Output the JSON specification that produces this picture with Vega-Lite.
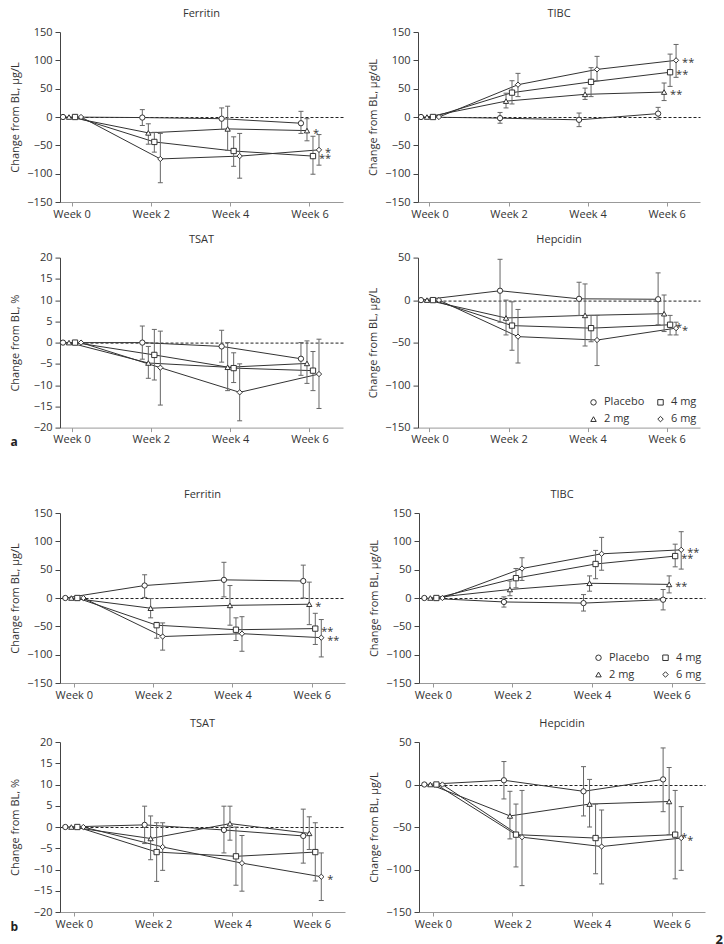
{
"$schema":"https://vega.github.io/schema/vega-lite/v6.json",
"background":"white",
"padding":{"left":9,"top":8,"right":0,"bottom":0},
"config":{
 "font":"Open Sans",
 "view":{"stroke":null},
 "axis":{"labelFontSize":11,"titleFontSize":11,"titleFontWeight":"normal","labelColor":"#333","titleColor":"#333","domainColor":"#444","tickColor":"#444","tickSize":5,"labelPadding":3},
 "axisX":{"domainColor":"#999","tickColor":"#999","tickSize":4,"labelPadding":2,"grid":false},
 "axisY":{"titleX":-40,"titleY":85,"gridDash":[3,2],"gridColor":"#222"},
 "title":{"fontSize":11,"fontWeight":"normal","color":"#333","offset":7},
 "legend":{"labelFontSize":11,"labelColor":"#333"}
},
"datasets":{"d":[
{"panel":"a","measure":"Ferritin","week":"Week 0","group":"Placebo","mean":0},
{"panel":"a","measure":"Ferritin","week":"Week 0","group":"2 mg","mean":0},
{"panel":"a","measure":"Ferritin","week":"Week 0","group":"4 mg","mean":0},
{"panel":"a","measure":"Ferritin","week":"Week 0","group":"6 mg","mean":0},
{"panel":"a","measure":"Ferritin","week":"Week 2","group":"Placebo","mean":-1,"lo":-15,"hi":13},
{"panel":"a","measure":"Ferritin","week":"Week 4","group":"Placebo","mean":-3,"lo":-22,"hi":16},
{"panel":"a","measure":"Ferritin","week":"Week 6","group":"Placebo","mean":-11,"lo":-29,"hi":10},
{"panel":"a","measure":"Ferritin","week":"Week 2","group":"2 mg","mean":-28,"lo":-48,"hi":-12},
{"panel":"a","measure":"Ferritin","week":"Week 4","group":"2 mg","mean":-21,"lo":-59,"hi":19},
{"panel":"a","measure":"Ferritin","week":"Week 6","group":"2 mg","mean":-24,"lo":-42,"hi":-3,"sig":"*"},
{"panel":"a","measure":"Ferritin","week":"Week 2","group":"4 mg","mean":-44,"lo":-62,"hi":-27},
{"panel":"a","measure":"Ferritin","week":"Week 4","group":"4 mg","mean":-60,"lo":-87,"hi":-35},
{"panel":"a","measure":"Ferritin","week":"Week 6","group":"4 mg","mean":-69,"lo":-101,"hi":-34,"sig":"**"},
{"panel":"a","measure":"Ferritin","week":"Week 2","group":"6 mg","mean":-74,"lo":-116,"hi":-29},
{"panel":"a","measure":"Ferritin","week":"Week 4","group":"6 mg","mean":-69,"lo":-108,"hi":-29},
{"panel":"a","measure":"Ferritin","week":"Week 6","group":"6 mg","mean":-58,"lo":-85,"hi":-31,"sig":"*"},
{"panel":"a","measure":"TIBC","week":"Week 0","group":"Placebo","mean":0},
{"panel":"a","measure":"TIBC","week":"Week 0","group":"2 mg","mean":0},
{"panel":"a","measure":"TIBC","week":"Week 0","group":"4 mg","mean":0},
{"panel":"a","measure":"TIBC","week":"Week 0","group":"6 mg","mean":0},
{"panel":"a","measure":"TIBC","week":"Week 2","group":"Placebo","mean":-2,"lo":-11,"hi":8},
{"panel":"a","measure":"TIBC","week":"Week 4","group":"Placebo","mean":-5,"lo":-17,"hi":7},
{"panel":"a","measure":"TIBC","week":"Week 6","group":"Placebo","mean":6,"lo":-4,"hi":17},
{"panel":"a","measure":"TIBC","week":"Week 2","group":"2 mg","mean":28,"lo":16,"hi":42},
{"panel":"a","measure":"TIBC","week":"Week 4","group":"2 mg","mean":40,"lo":31,"hi":51},
{"panel":"a","measure":"TIBC","week":"Week 6","group":"2 mg","mean":44,"lo":29,"hi":60,"sig":"**"},
{"panel":"a","measure":"TIBC","week":"Week 2","group":"4 mg","mean":43,"lo":23,"hi":64},
{"panel":"a","measure":"TIBC","week":"Week 4","group":"4 mg","mean":62,"lo":36,"hi":87},
{"panel":"a","measure":"TIBC","week":"Week 6","group":"4 mg","mean":79,"lo":54,"hi":111,"sig":"**"},
{"panel":"a","measure":"TIBC","week":"Week 2","group":"6 mg","mean":57,"lo":36,"hi":77},
{"panel":"a","measure":"TIBC","week":"Week 4","group":"6 mg","mean":84,"lo":64,"hi":107},
{"panel":"a","measure":"TIBC","week":"Week 6","group":"6 mg","mean":100,"lo":70,"hi":128,"sig":"**"},
{"panel":"a","measure":"TSAT","week":"Week 0","group":"Placebo","mean":0},
{"panel":"a","measure":"TSAT","week":"Week 0","group":"2 mg","mean":0},
{"panel":"a","measure":"TSAT","week":"Week 0","group":"4 mg","mean":0},
{"panel":"a","measure":"TSAT","week":"Week 0","group":"6 mg","mean":0},
{"panel":"a","measure":"TSAT","week":"Week 2","group":"Placebo","mean":0,"lo":-3.9,"hi":3.9},
{"panel":"a","measure":"TSAT","week":"Week 4","group":"Placebo","mean":-0.9,"lo":-4.6,"hi":2.9},
{"panel":"a","measure":"TSAT","week":"Week 6","group":"Placebo","mean":-3.8,"lo":-7.7,"hi":0},
{"panel":"a","measure":"TSAT","week":"Week 2","group":"2 mg","mean":-4.8,"lo":-8.4,"hi":-0.9},
{"panel":"a","measure":"TSAT","week":"Week 4","group":"2 mg","mean":-5.8,"lo":-11.3,"hi":0},
{"panel":"a","measure":"TSAT","week":"Week 6","group":"2 mg","mean":-4.9,"lo":-9.6,"hi":0.4},
{"panel":"a","measure":"TSAT","week":"Week 2","group":"4 mg","mean":-2.9,"lo":-8.8,"hi":3.1},
{"panel":"a","measure":"TSAT","week":"Week 4","group":"4 mg","mean":-6,"lo":-9.4,"hi":-2.4},
{"panel":"a","measure":"TSAT","week":"Week 6","group":"4 mg","mean":-6.6,"lo":-11.3,"hi":-2.1},
{"panel":"a","measure":"TSAT","week":"Week 2","group":"6 mg","mean":-5.9,"lo":-14.7,"hi":2.7},
{"panel":"a","measure":"TSAT","week":"Week 4","group":"6 mg","mean":-11.7,"lo":-18.4,"hi":-5},
{"panel":"a","measure":"TSAT","week":"Week 6","group":"6 mg","mean":-7.4,"lo":-15.5,"hi":0.8},
{"panel":"a","measure":"Hepcidin","week":"Week 0","group":"Placebo","mean":0},
{"panel":"a","measure":"Hepcidin","week":"Week 0","group":"2 mg","mean":0},
{"panel":"a","measure":"Hepcidin","week":"Week 0","group":"4 mg","mean":0},
{"panel":"a","measure":"Hepcidin","week":"Week 0","group":"6 mg","mean":0},
{"panel":"a","measure":"Hepcidin","week":"Week 2","group":"Placebo","mean":11,"lo":-26,"hi":48},
{"panel":"a","measure":"Hepcidin","week":"Week 4","group":"Placebo","mean":1.5,"lo":-18,"hi":21},
{"panel":"a","measure":"Hepcidin","week":"Week 6","group":"Placebo","mean":1,"lo":-29,"hi":32},
{"panel":"a","measure":"Hepcidin","week":"Week 2","group":"2 mg","mean":-21,"lo":-41,"hi":0},
{"panel":"a","measure":"Hepcidin","week":"Week 4","group":"2 mg","mean":-18,"lo":-54,"hi":19},
{"panel":"a","measure":"Hepcidin","week":"Week 6","group":"2 mg","mean":-16,"lo":-37,"hi":6},
{"panel":"a","measure":"Hepcidin","week":"Week 2","group":"4 mg","mean":-30,"lo":-59,"hi":-2},
{"panel":"a","measure":"Hepcidin","week":"Week 4","group":"4 mg","mean":-33,"lo":-49,"hi":-18},
{"panel":"a","measure":"Hepcidin","week":"Week 6","group":"4 mg","mean":-29,"lo":-41,"hi":-18,"sig":"*"},
{"panel":"a","measure":"Hepcidin","week":"Week 2","group":"6 mg","mean":-43,"lo":-74,"hi":-11},
{"panel":"a","measure":"Hepcidin","week":"Week 4","group":"6 mg","mean":-47,"lo":-77,"hi":-18},
{"panel":"a","measure":"Hepcidin","week":"Week 6","group":"6 mg","mean":-33,"lo":-41,"hi":-26,"sig":"*"},
{"panel":"b","measure":"Ferritin","week":"Week 0","group":"Placebo","mean":0},
{"panel":"b","measure":"Ferritin","week":"Week 0","group":"2 mg","mean":0},
{"panel":"b","measure":"Ferritin","week":"Week 0","group":"4 mg","mean":0},
{"panel":"b","measure":"Ferritin","week":"Week 0","group":"6 mg","mean":0},
{"panel":"b","measure":"Ferritin","week":"Week 2","group":"Placebo","mean":22,"lo":1,"hi":41},
{"panel":"b","measure":"Ferritin","week":"Week 4","group":"Placebo","mean":32,"lo":2,"hi":63},
{"panel":"b","measure":"Ferritin","week":"Week 6","group":"Placebo","mean":30,"lo":0,"hi":58},
{"panel":"b","measure":"Ferritin","week":"Week 2","group":"2 mg","mean":-18,"lo":-35,"hi":-1},
{"panel":"b","measure":"Ferritin","week":"Week 4","group":"2 mg","mean":-13,"lo":-48,"hi":22},
{"panel":"b","measure":"Ferritin","week":"Week 6","group":"2 mg","mean":-11,"lo":-47,"hi":28,"sig":"*"},
{"panel":"b","measure":"Ferritin","week":"Week 2","group":"4 mg","mean":-48,"lo":-71,"hi":-43},
{"panel":"b","measure":"Ferritin","week":"Week 4","group":"4 mg","mean":-56,"lo":-75,"hi":-35},
{"panel":"b","measure":"Ferritin","week":"Week 6","group":"4 mg","mean":-54,"lo":-82,"hi":-27,"sig":"**"},
{"panel":"b","measure":"Ferritin","week":"Week 2","group":"6 mg","mean":-68,"lo":-92,"hi":-44},
{"panel":"b","measure":"Ferritin","week":"Week 4","group":"6 mg","mean":-63,"lo":-94,"hi":-33},
{"panel":"b","measure":"Ferritin","week":"Week 6","group":"6 mg","mean":-70,"lo":-104,"hi":-38,"sig":"**"},
{"panel":"b","measure":"TIBC","week":"Week 0","group":"Placebo","mean":0},
{"panel":"b","measure":"TIBC","week":"Week 0","group":"2 mg","mean":0},
{"panel":"b","measure":"TIBC","week":"Week 0","group":"4 mg","mean":0},
{"panel":"b","measure":"TIBC","week":"Week 0","group":"6 mg","mean":0},
{"panel":"b","measure":"TIBC","week":"Week 2","group":"Placebo","mean":-7,"lo":-16,"hi":2},
{"panel":"b","measure":"TIBC","week":"Week 4","group":"Placebo","mean":-9,"lo":-23,"hi":6},
{"panel":"b","measure":"TIBC","week":"Week 6","group":"Placebo","mean":-3,"lo":-21,"hi":15},
{"panel":"b","measure":"TIBC","week":"Week 2","group":"2 mg","mean":15,"lo":4,"hi":30},
{"panel":"b","measure":"TIBC","week":"Week 4","group":"2 mg","mean":26,"lo":12,"hi":39},
{"panel":"b","measure":"TIBC","week":"Week 6","group":"2 mg","mean":24,"lo":9,"hi":39,"sig":"**"},
{"panel":"b","measure":"TIBC","week":"Week 2","group":"4 mg","mean":35,"lo":18,"hi":52},
{"panel":"b","measure":"TIBC","week":"Week 4","group":"4 mg","mean":60,"lo":34,"hi":84},
{"panel":"b","measure":"TIBC","week":"Week 6","group":"4 mg","mean":74,"lo":55,"hi":95,"sig":"**"},
{"panel":"b","measure":"TIBC","week":"Week 2","group":"6 mg","mean":52,"lo":31,"hi":71},
{"panel":"b","measure":"TIBC","week":"Week 4","group":"6 mg","mean":78,"lo":49,"hi":107},
{"panel":"b","measure":"TIBC","week":"Week 6","group":"6 mg","mean":85,"lo":51,"hi":117,"sig":"**"},
{"panel":"b","measure":"TSAT","week":"Week 0","group":"Placebo","mean":0},
{"panel":"b","measure":"TSAT","week":"Week 0","group":"2 mg","mean":0},
{"panel":"b","measure":"TSAT","week":"Week 0","group":"4 mg","mean":0},
{"panel":"b","measure":"TSAT","week":"Week 0","group":"6 mg","mean":0},
{"panel":"b","measure":"TSAT","week":"Week 2","group":"Placebo","mean":0.5,"lo":-3.9,"hi":4.9},
{"panel":"b","measure":"TSAT","week":"Week 4","group":"Placebo","mean":-0.7,"lo":-6.1,"hi":4.9},
{"panel":"b","measure":"TSAT","week":"Week 6","group":"Placebo","mean":-2.1,"lo":-8.5,"hi":4.2},
{"panel":"b","measure":"TSAT","week":"Week 2","group":"2 mg","mean":-2.7,"lo":-7.7,"hi":2.6},
{"panel":"b","measure":"TSAT","week":"Week 4","group":"2 mg","mean":0.8,"lo":-3.1,"hi":4.9},
{"panel":"b","measure":"TSAT","week":"Week 6","group":"2 mg","mean":-1.5,"lo":-5.3,"hi":2.4},
{"panel":"b","measure":"TSAT","week":"Week 2","group":"4 mg","mean":-5.9,"lo":-12.8,"hi":1},
{"panel":"b","measure":"TSAT","week":"Week 4","group":"4 mg","mean":-6.9,"lo":-13.7,"hi":0},
{"panel":"b","measure":"TSAT","week":"Week 6","group":"4 mg","mean":-5.9,"lo":-12.7,"hi":1},
{"panel":"b","measure":"TSAT","week":"Week 2","group":"6 mg","mean":-4.7,"lo":-10.2,"hi":1},
{"panel":"b","measure":"TSAT","week":"Week 4","group":"6 mg","mean":-8.5,"lo":-15.1,"hi":-2},
{"panel":"b","measure":"TSAT","week":"Week 6","group":"6 mg","mean":-11.7,"lo":-17.3,"hi":-6.1,"sig":"*"},
{"panel":"b","measure":"Hepcidin","week":"Week 0","group":"Placebo","mean":0},
{"panel":"b","measure":"Hepcidin","week":"Week 0","group":"2 mg","mean":0},
{"panel":"b","measure":"Hepcidin","week":"Week 0","group":"4 mg","mean":0},
{"panel":"b","measure":"Hepcidin","week":"Week 0","group":"6 mg","mean":0},
{"panel":"b","measure":"Hepcidin","week":"Week 2","group":"Placebo","mean":5,"lo":-17,"hi":27},
{"panel":"b","measure":"Hepcidin","week":"Week 4","group":"Placebo","mean":-8,"lo":-37,"hi":21},
{"panel":"b","measure":"Hepcidin","week":"Week 6","group":"Placebo","mean":6,"lo":-32,"hi":43},
{"panel":"b","measure":"Hepcidin","week":"Week 2","group":"2 mg","mean":-37,"lo":-64,"hi":-8},
{"panel":"b","measure":"Hepcidin","week":"Week 4","group":"2 mg","mean":-23,"lo":-50,"hi":6},
{"panel":"b","measure":"Hepcidin","week":"Week 6","group":"2 mg","mean":-20,"lo":-59,"hi":20},
{"panel":"b","measure":"Hepcidin","week":"Week 2","group":"4 mg","mean":-59,"lo":-97,"hi":-23},
{"panel":"b","measure":"Hepcidin","week":"Week 4","group":"4 mg","mean":-63,"lo":-105,"hi":-23},
{"panel":"b","measure":"Hepcidin","week":"Week 6","group":"4 mg","mean":-59,"lo":-111,"hi":-7,"sig":"*"},
{"panel":"b","measure":"Hepcidin","week":"Week 2","group":"6 mg","mean":-62,"lo":-119,"hi":-7},
{"panel":"b","measure":"Hepcidin","week":"Week 4","group":"6 mg","mean":-73,"lo":-117,"hi":-30},
{"panel":"b","measure":"Hepcidin","week":"Week 6","group":"6 mg","mean":-63,"lo":-101,"hi":-26,"sig":"*"}
]},
"spacing":41,
"resolve":{"scale":{"shape":"independent","xOffset":"independent"},"legend":{"shape":"independent"}},
"vconcat":[
{"columns":2,"spacing":{"row":14.6,"column":24},
 "resolve":{"scale":{"shape":"independent","xOffset":"independent"},"legend":{"shape":"independent"}},
 "concat":[
  {"width":283,"height":170,"title":"Ferritin","data":{"name":"d"},
   "transform":[{"filter":"datum.panel === 'a' && datum.measure === 'Ferritin'"}],
   "encoding":{
    "x":{"field":"week","type":"ordinal","scale":{"type":"band","domain":["Week 0","Week 2","Week 4","Week 6"],"paddingInner":0.697,"paddingOuter":0.1324,"align":0},"axis":{"title":null,"labelAngle":0}},
    "xOffset":{"field":"group","type":"nominal","scale":{"domain":["Placebo","2 mg","4 mg","6 mg"]}},
    "y":{"field":"mean","type":"quantitative","scale":{"domain":[-150,150],"nice":false},"axis":{"title":"Change from BL, µg/L","values":[-150,-100,-50,0,50,100,150],"grid":true,"gridOpacity":{"condition":{"test":"datum.value === 0","value":1},"value":0}}}
   },
   "layer":[
    {"mark":{"type":"line","color":"#333","strokeWidth":1},"encoding":{"detail":{"field":"group"}}},
    {"mark":{"type":"rule","color":"#666","strokeWidth":1},"encoding":{"y":{"field":"lo","type":"quantitative"},"y2":{"field":"hi"}}},
    {"mark":{"type":"point","shape":"stroke","size":25,"color":"#666","strokeWidth":1,"opacity":1},"encoding":{"y":{"field":"lo","type":"quantitative"}}},
    {"mark":{"type":"point","shape":"stroke","size":25,"color":"#666","strokeWidth":1,"opacity":1},"encoding":{"y":{"field":"hi","type":"quantitative"}}},
    {"mark":{"type":"point","filled":false,"color":"#333","fill":"white","strokeWidth":1,"opacity":1,"size":28},"encoding":{"shape":{"field":"group","type":"nominal","scale":{"domain":["Placebo","2 mg","4 mg","6 mg"],"range":["circle","triangle-up","square","diamond"]},"legend":null}}},
    {"transform":[{"filter":"datum.sig"}],"mark":{"type":"text","align":"left","baseline":"middle","dx":6,"dy":3,"fontSize":11,"color":"#333"},"encoding":{"text":{"field":"sig"}}}
   ]},
  {"width":282,"height":170,"title":"TIBC","data":{"name":"d"},
   "transform":[{"filter":"datum.panel === 'a' && datum.measure === 'TIBC'"}],
   "encoding":{
    "x":{"field":"week","type":"ordinal","scale":{"type":"band","domain":["Week 0","Week 2","Week 4","Week 6"],"paddingInner":0.697,"paddingOuter":0.1324,"align":0},"axis":{"title":null,"labelAngle":0}},
    "xOffset":{"field":"group","type":"nominal","scale":{"domain":["Placebo","2 mg","4 mg","6 mg"]}},
    "y":{"field":"mean","type":"quantitative","scale":{"domain":[-150,150],"nice":false},"axis":{"title":"Change from BL, µg/dL","values":[-150,-100,-50,0,50,100,150],"grid":true,"gridOpacity":{"condition":{"test":"datum.value === 0","value":1},"value":0}}}
   },
   "layer":[
    {"mark":{"type":"line","color":"#333","strokeWidth":1},"encoding":{"detail":{"field":"group"}}},
    {"mark":{"type":"rule","color":"#666","strokeWidth":1},"encoding":{"y":{"field":"lo","type":"quantitative"},"y2":{"field":"hi"}}},
    {"mark":{"type":"point","shape":"stroke","size":25,"color":"#666","strokeWidth":1,"opacity":1},"encoding":{"y":{"field":"lo","type":"quantitative"}}},
    {"mark":{"type":"point","shape":"stroke","size":25,"color":"#666","strokeWidth":1,"opacity":1},"encoding":{"y":{"field":"hi","type":"quantitative"}}},
    {"mark":{"type":"point","filled":false,"color":"#333","fill":"white","strokeWidth":1,"opacity":1,"size":28},"encoding":{"shape":{"field":"group","type":"nominal","scale":{"domain":["Placebo","2 mg","4 mg","6 mg"],"range":["circle","triangle-up","square","diamond"]},"legend":null}}},
    {"transform":[{"filter":"datum.sig"}],"mark":{"type":"text","align":"left","baseline":"middle","dx":6,"dy":3,"fontSize":11,"color":"#333"},"encoding":{"text":{"field":"sig"}}}
   ]},
  {"width":283,"height":170,"title":"TSAT","data":{"name":"d"},
   "transform":[{"filter":"datum.panel === 'a' && datum.measure === 'TSAT'"}],
   "encoding":{
    "x":{"field":"week","type":"ordinal","scale":{"type":"band","domain":["Week 0","Week 2","Week 4","Week 6"],"paddingInner":0.697,"paddingOuter":0.1324,"align":0},"axis":{"title":"a","labelAngle":0,"titleX":-50,"titleY":18,"titleAlign":"left","titleBaseline":"alphabetic","titleFontWeight":"bold","titleFontSize":12,"titleColor":"#222"}},
    "xOffset":{"field":"group","type":"nominal","scale":{"domain":["Placebo","2 mg","4 mg","6 mg"]}},
    "y":{"field":"mean","type":"quantitative","scale":{"domain":[-20,20],"nice":false},"axis":{"title":"Change from BL, %","values":[-20,-15,-10,-5,0,5,10,15,20],"grid":true,"gridOpacity":{"condition":{"test":"datum.value === 0","value":1},"value":0}}}
   },
   "layer":[
    {"mark":{"type":"line","color":"#333","strokeWidth":1},"encoding":{"detail":{"field":"group"}}},
    {"mark":{"type":"rule","color":"#666","strokeWidth":1},"encoding":{"y":{"field":"lo","type":"quantitative"},"y2":{"field":"hi"}}},
    {"mark":{"type":"point","shape":"stroke","size":25,"color":"#666","strokeWidth":1,"opacity":1},"encoding":{"y":{"field":"lo","type":"quantitative"}}},
    {"mark":{"type":"point","shape":"stroke","size":25,"color":"#666","strokeWidth":1,"opacity":1},"encoding":{"y":{"field":"hi","type":"quantitative"}}},
    {"mark":{"type":"point","filled":false,"color":"#333","fill":"white","strokeWidth":1,"opacity":1,"size":28},"encoding":{"shape":{"field":"group","type":"nominal","scale":{"domain":["Placebo","2 mg","4 mg","6 mg"],"range":["circle","triangle-up","square","diamond"]},"legend":null}}},
    {"transform":[{"filter":"datum.sig"}],"mark":{"type":"text","align":"left","baseline":"middle","dx":6,"dy":3,"fontSize":11,"color":"#333"},"encoding":{"text":{"field":"sig"}}}
   ]},
  {"width":282,"height":170,"title":"Hepcidin","data":{"name":"d"},
   "transform":[{"filter":"datum.panel === 'a' && datum.measure === 'Hepcidin'"}],
   "encoding":{
    "x":{"field":"week","type":"ordinal","scale":{"type":"band","domain":["Week 0","Week 2","Week 4","Week 6"],"paddingInner":0.697,"paddingOuter":0.1324,"align":0},"axis":{"title":null,"labelAngle":0}},
    "xOffset":{"field":"group","type":"nominal","scale":{"domain":["Placebo","2 mg","4 mg","6 mg"]}},
    "y":{"field":"mean","type":"quantitative","scale":{"domain":[-150,50],"nice":false},"axis":{"title":"Change from BL, µg/L","values":[-150,-100,-50,0,50],"grid":true,"gridOpacity":{"condition":{"test":"datum.value === 0","value":1},"value":0}}}
   },
   "layer":[
    {"mark":{"type":"line","color":"#333","strokeWidth":1},"encoding":{"detail":{"field":"group"}}},
    {"mark":{"type":"rule","color":"#666","strokeWidth":1},"encoding":{"y":{"field":"lo","type":"quantitative"},"y2":{"field":"hi"}}},
    {"mark":{"type":"point","shape":"stroke","size":25,"color":"#666","strokeWidth":1,"opacity":1},"encoding":{"y":{"field":"lo","type":"quantitative"}}},
    {"mark":{"type":"point","shape":"stroke","size":25,"color":"#666","strokeWidth":1,"opacity":1},"encoding":{"y":{"field":"hi","type":"quantitative"}}},
    {"mark":{"type":"point","filled":false,"color":"#333","fill":"white","strokeWidth":1,"opacity":1,"size":28},"encoding":{"shape":{"field":"group","type":"nominal","scale":{"domain":["Placebo","2 mg","4 mg","6 mg"],"range":["circle","triangle-up","square","diamond"]},"legend":{"title":null,"orient":"bottom-right","columns":2,"offset":3,"padding":0,"rowPadding":5,"columnPadding":10,"labelOffset":5,"symbolSize":30,"symbolStrokeWidth":1}}}},
    {"transform":[{"filter":"datum.sig"}],"mark":{"type":"text","align":"left","baseline":"middle","dx":6,"dy":3,"fontSize":11,"color":"#333"},"encoding":{"text":{"field":"sig"}}}
   ]}
 ]},
{"columns":2,"spacing":{"row":18,"column":23},
 "resolve":{"scale":{"shape":"independent","xOffset":"independent"},"legend":{"shape":"independent"}},
 "concat":[
  {"width":285,"height":170,"title":"Ferritin","data":{"name":"d"},
   "transform":[{"filter":"datum.panel === 'b' && datum.measure === 'Ferritin'"}],
   "encoding":{
    "x":{"field":"week","type":"ordinal","scale":{"type":"band","domain":["Week 0","Week 2","Week 4","Week 6"],"paddingInner":0.697,"paddingOuter":0.145,"align":0.1},"axis":{"title":null,"labelAngle":0}},
    "xOffset":{"field":"group","type":"nominal","scale":{"domain":["Placebo","2 mg","4 mg","6 mg"]}},
    "y":{"field":"mean","type":"quantitative","scale":{"domain":[-150,150],"nice":false},"axis":{"title":"Change from BL, µg/L","values":[-150,-100,-50,0,50,100,150],"grid":true,"gridOpacity":{"condition":{"test":"datum.value === 0","value":1},"value":0}}}
   },
   "layer":[
    {"mark":{"type":"line","color":"#333","strokeWidth":1},"encoding":{"detail":{"field":"group"}}},
    {"mark":{"type":"rule","color":"#666","strokeWidth":1},"encoding":{"y":{"field":"lo","type":"quantitative"},"y2":{"field":"hi"}}},
    {"mark":{"type":"point","shape":"stroke","size":25,"color":"#666","strokeWidth":1,"opacity":1},"encoding":{"y":{"field":"lo","type":"quantitative"}}},
    {"mark":{"type":"point","shape":"stroke","size":25,"color":"#666","strokeWidth":1,"opacity":1},"encoding":{"y":{"field":"hi","type":"quantitative"}}},
    {"mark":{"type":"point","filled":false,"color":"#333","fill":"white","strokeWidth":1,"opacity":1,"size":28},"encoding":{"shape":{"field":"group","type":"nominal","scale":{"domain":["Placebo","2 mg","4 mg","6 mg"],"range":["circle","triangle-up","square","diamond"]},"legend":null}}},
    {"transform":[{"filter":"datum.sig"}],"mark":{"type":"text","align":"left","baseline":"middle","dx":6,"dy":3,"fontSize":11,"color":"#333"},"encoding":{"text":{"field":"sig"}}}
   ]},
  {"width":286,"height":170,"title":"TIBC","data":{"name":"d"},
   "transform":[{"filter":"datum.panel === 'b' && datum.measure === 'TIBC'"}],
   "encoding":{
    "x":{"field":"week","type":"ordinal","scale":{"type":"band","domain":["Week 0","Week 2","Week 4","Week 6"],"paddingInner":0.697,"paddingOuter":0.145,"align":0.1},"axis":{"title":null,"labelAngle":0}},
    "xOffset":{"field":"group","type":"nominal","scale":{"domain":["Placebo","2 mg","4 mg","6 mg"]}},
    "y":{"field":"mean","type":"quantitative","scale":{"domain":[-150,150],"nice":false},"axis":{"title":"Change from BL, µg/dL","values":[-150,-100,-50,0,50,100,150],"grid":true,"gridOpacity":{"condition":{"test":"datum.value === 0","value":1},"value":0}}}
   },
   "layer":[
    {"mark":{"type":"line","color":"#333","strokeWidth":1},"encoding":{"detail":{"field":"group"}}},
    {"mark":{"type":"rule","color":"#666","strokeWidth":1},"encoding":{"y":{"field":"lo","type":"quantitative"},"y2":{"field":"hi"}}},
    {"mark":{"type":"point","shape":"stroke","size":25,"color":"#666","strokeWidth":1,"opacity":1},"encoding":{"y":{"field":"lo","type":"quantitative"}}},
    {"mark":{"type":"point","shape":"stroke","size":25,"color":"#666","strokeWidth":1,"opacity":1},"encoding":{"y":{"field":"hi","type":"quantitative"}}},
    {"mark":{"type":"point","filled":false,"color":"#333","fill":"white","strokeWidth":1,"opacity":1,"size":28},"encoding":{"shape":{"field":"group","type":"nominal","scale":{"domain":["Placebo","2 mg","4 mg","6 mg"],"range":["circle","triangle-up","square","diamond"]},"legend":{"title":null,"orient":"bottom-right","columns":2,"offset":3,"padding":0,"rowPadding":5,"columnPadding":10,"labelOffset":5,"symbolSize":30,"symbolStrokeWidth":1}}}},
    {"transform":[{"filter":"datum.sig"}],"mark":{"type":"text","align":"left","baseline":"middle","dx":6,"dy":3,"fontSize":11,"color":"#333"},"encoding":{"text":{"field":"sig"}}}
   ]},
  {"width":285,"height":170,"title":"TSAT","data":{"name":"d"},
   "transform":[{"filter":"datum.panel === 'b' && datum.measure === 'TSAT'"}],
   "encoding":{
    "x":{"field":"week","type":"ordinal","scale":{"type":"band","domain":["Week 0","Week 2","Week 4","Week 6"],"paddingInner":0.697,"paddingOuter":0.145,"align":0.1},"axis":{"title":"b","labelAngle":0,"titleX":-50,"titleY":18,"titleAlign":"left","titleBaseline":"alphabetic","titleFontWeight":"bold","titleFontSize":12,"titleColor":"#222"}},
    "xOffset":{"field":"group","type":"nominal","scale":{"domain":["Placebo","2 mg","4 mg","6 mg"]}},
    "y":{"field":"mean","type":"quantitative","scale":{"domain":[-20,20],"nice":false},"axis":{"title":"Change from BL, %","values":[-20,-15,-10,-5,0,5,10,15,20],"grid":true,"gridOpacity":{"condition":{"test":"datum.value === 0","value":1},"value":0}}}
   },
   "layer":[
    {"mark":{"type":"line","color":"#333","strokeWidth":1},"encoding":{"detail":{"field":"group"}}},
    {"mark":{"type":"rule","color":"#666","strokeWidth":1},"encoding":{"y":{"field":"lo","type":"quantitative"},"y2":{"field":"hi"}}},
    {"mark":{"type":"point","shape":"stroke","size":25,"color":"#666","strokeWidth":1,"opacity":1},"encoding":{"y":{"field":"lo","type":"quantitative"}}},
    {"mark":{"type":"point","shape":"stroke","size":25,"color":"#666","strokeWidth":1,"opacity":1},"encoding":{"y":{"field":"hi","type":"quantitative"}}},
    {"mark":{"type":"point","filled":false,"color":"#333","fill":"white","strokeWidth":1,"opacity":1,"size":28},"encoding":{"shape":{"field":"group","type":"nominal","scale":{"domain":["Placebo","2 mg","4 mg","6 mg"],"range":["circle","triangle-up","square","diamond"]},"legend":null}}},
    {"transform":[{"filter":"datum.sig"}],"mark":{"type":"text","align":"left","baseline":"middle","dx":6,"dy":3,"fontSize":11,"color":"#333"},"encoding":{"text":{"field":"sig"}}}
   ]},
  {"width":286,"height":170,"title":"Hepcidin","data":{"name":"d"},
   "transform":[{"filter":"datum.panel === 'b' && datum.measure === 'Hepcidin'"}],
   "encoding":{
    "x":{"field":"week","type":"ordinal","scale":{"type":"band","domain":["Week 0","Week 2","Week 4","Week 6"],"paddingInner":0.697,"paddingOuter":0.145,"align":0.1},"axis":{"title":"2","labelAngle":0,"titleX":296,"titleY":31,"titleAlign":"left","titleBaseline":"alphabetic","titleFontWeight":"bold","titleFontSize":13,"titleColor":"#222"}},
    "xOffset":{"field":"group","type":"nominal","scale":{"domain":["Placebo","2 mg","4 mg","6 mg"]}},
    "y":{"field":"mean","type":"quantitative","scale":{"domain":[-150,50],"nice":false},"axis":{"title":"Change from BL, µg/L","values":[-150,-100,-50,0,50],"grid":true,"gridOpacity":{"condition":{"test":"datum.value === 0","value":1},"value":0}}}
   },
   "layer":[
    {"mark":{"type":"line","color":"#333","strokeWidth":1},"encoding":{"detail":{"field":"group"}}},
    {"mark":{"type":"rule","color":"#666","strokeWidth":1},"encoding":{"y":{"field":"lo","type":"quantitative"},"y2":{"field":"hi"}}},
    {"mark":{"type":"point","shape":"stroke","size":25,"color":"#666","strokeWidth":1,"opacity":1},"encoding":{"y":{"field":"lo","type":"quantitative"}}},
    {"mark":{"type":"point","shape":"stroke","size":25,"color":"#666","strokeWidth":1,"opacity":1},"encoding":{"y":{"field":"hi","type":"quantitative"}}},
    {"mark":{"type":"point","filled":false,"color":"#333","fill":"white","strokeWidth":1,"opacity":1,"size":28},"encoding":{"shape":{"field":"group","type":"nominal","scale":{"domain":["Placebo","2 mg","4 mg","6 mg"],"range":["circle","triangle-up","square","diamond"]},"legend":null}}},
    {"transform":[{"filter":"datum.sig"}],"mark":{"type":"text","align":"left","baseline":"middle","dx":6,"dy":3,"fontSize":11,"color":"#333"},"encoding":{"text":{"field":"sig"}}}
   ]}
 ]}
]
}
